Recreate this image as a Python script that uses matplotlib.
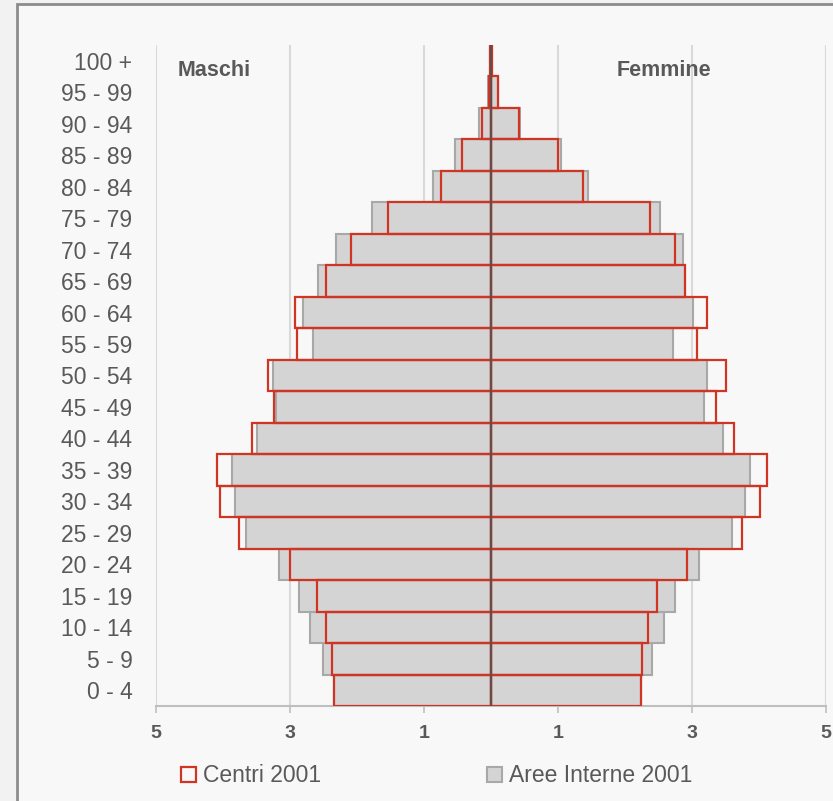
import numpy as np
import matplotlib
matplotlib.use('Agg')
import matplotlib.pyplot as plt
from matplotlib.patches import Rectangle, Patch
from matplotlib.ticker import FuncFormatter

plt.rcParams['font.family'] = ['Liberation Sans Narrow', 'Liberation Sans', 'DejaVu Sans']

age_groups = ['0 - 4', '5 - 9', '10 - 14', '15 - 19', '20 - 24', '25 - 29',
              '30 - 34', '35 - 39', '40 - 44', '45 - 49', '50 - 54', '55 - 59',
              '60 - 64', '65 - 69', '70 - 74', '75 - 79', '80 - 84', '85 - 89',
              '90 - 94', '95 - 99', '100 +']

# percentuali
maschi_aree = [2.35, 2.51, 2.70, 2.86, 3.16, 3.65, 3.82, 3.86, 3.49, 3.21, 3.26,
               2.65, 2.80, 2.58, 2.31, 1.77, 0.87, 0.54, 0.18, 0.04, 0.02]
maschi_centri = [2.35, 2.37, 2.46, 2.59, 3.00, 3.76, 4.04, 4.09, 3.56, 3.24, 3.33,
                 2.89, 2.92, 2.46, 2.09, 1.54, 0.75, 0.44, 0.14, 0.03, 0.02]
femmine_aree = [2.24, 2.40, 2.58, 2.75, 3.10, 3.60, 3.79, 3.86, 3.47, 3.18, 3.23,
                2.72, 3.01, 2.89, 2.86, 2.52, 1.45, 1.05, 0.44, 0.10, 0.02]
femmine_centri = [2.24, 2.25, 2.34, 2.48, 2.93, 3.74, 4.02, 4.12, 3.62, 3.36, 3.50,
                  3.08, 3.23, 2.90, 2.74, 2.38, 1.38, 1.00, 0.42, 0.10, 0.02]

RED = '#cf3522'
GREY_FILL = '#d4d4d4'
GREY_EDGE = '#a8a8a8'
TXT = '#595959'

fig = plt.figure(figsize=(8.33, 8.01), dpi=100, facecolor='#f2f2f2')
# cornice esterna
fig.patches.append(Rectangle((17 / 833, -0.02), 1.0, (801 - 4) / 801 + 0.02,
                             transform=fig.transFigure, facecolor='#f8f8f8',
                             edgecolor='#8c8c8c', linewidth=2, zorder=-10))

ax = fig.add_axes([156 / 833, 95 / 801, 670 / 833, 661 / 801])
ax.set_facecolor('none')

y = np.arange(len(age_groups))
m_a = -np.array(maschi_aree)
m_c = -np.array(maschi_centri)
f_a = np.array(femmine_aree)
f_c = np.array(femmine_centri)

ax.barh(y, m_a, height=1.0, color=GREY_FILL, edgecolor=GREY_EDGE, linewidth=1.5, zorder=2)
ax.barh(y, f_a, height=1.0, color=GREY_FILL, edgecolor=GREY_EDGE, linewidth=1.5, zorder=2)
ax.barh(y, m_c, height=1.0, color='none', edgecolor=RED, linewidth=1.6, zorder=3)
ax.barh(y, f_c, height=1.0, color='none', edgecolor=RED, linewidth=1.6, zorder=3)

ax.axvline(0, color='#6b4b47', linewidth=1.6, zorder=4)

ax.set_xlim(-5, 5)
ax.set_ylim(-0.5, len(age_groups) - 0.5)
ax.set_xticks([-5, -3, -1, 1, 3, 5])
ax.xaxis.set_major_formatter(FuncFormatter(lambda v, p: '%d' % abs(v)))
ax.grid(axis='x', color='#d9d9d9', linewidth=1.5, zorder=0)
ax.set_axisbelow(True)

ax.set_yticks(y)
ax.set_yticklabels(age_groups)
ax.tick_params(axis='y', length=0, pad=17, labelsize=16.5, labelcolor=TXT)
ax.tick_params(axis='x', length=5, width=1.2, color='#bfbfbf', pad=9,
               labelsize=14, labelcolor=TXT)
for lab in ax.get_xticklabels():
    lab.set_fontweight('bold')

for s in ['top', 'left', 'right']:
    ax.spines[s].set_visible(False)
ax.spines['bottom'].set_color('#bfbfbf')
ax.spines['bottom'].set_linewidth(1.5)

ax.text(-4.67, 0.962, 'Maschi', transform=ax.get_xaxis_transform(), ha='left',
        va='center', fontsize=15.5, fontweight='bold', color=TXT)
ax.text(1.88, 0.962, 'Femmine', transform=ax.get_xaxis_transform(), ha='left',
        va='center', fontsize=15.5, fontweight='bold', color=TXT)

handles = [Patch(facecolor='none', edgecolor=RED, linewidth=1.6, label='Centri 2001'),
           Patch(facecolor=GREY_FILL, edgecolor=GREY_EDGE, linewidth=1.5, label='Aree Interne 2001')]
leg = fig.legend(handles=handles, loc='center left', bbox_to_anchor=(181 / 833, 25 / 801),
                 ncol=2, frameon=False, fontsize=16.5, handlelength=0.65, handleheight=0.65,
                 handletextpad=0.3, columnspacing=7.25, borderaxespad=0, borderpad=0)
for t in leg.get_texts():
    t.set_color(TXT)

fig.savefig('out.png', dpi=100, facecolor=fig.get_facecolor())
